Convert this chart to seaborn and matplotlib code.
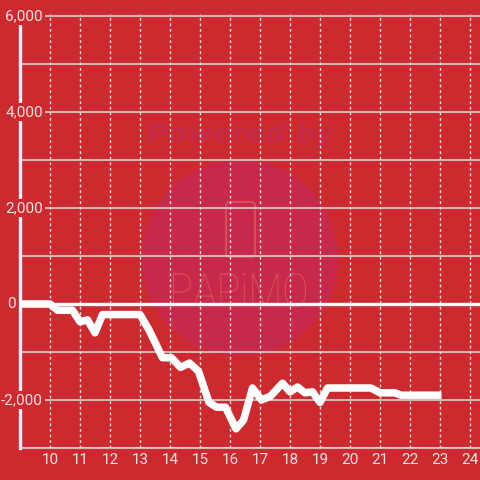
import matplotlib
matplotlib.use("Agg")
import matplotlib.pyplot as plt
import seaborn as sns
import pandas as pd
from matplotlib.patches import Circle, FancyBboxPatch, PathPatch
from matplotlib.ticker import MultipleLocator
from matplotlib.textpath import TextPath
from matplotlib.font_manager import FontProperties
from matplotlib.transforms import Affine2D, blended_transform_factory

# ---- data ----
x_vals = [9, 10, 10.25, 10.75, 11, 11.25, 11.5, 11.75, 13, 13.3, 13.75, 14.05,
          14.35, 14.65, 14.95, 15.3, 15.55, 15.85, 16.2, 16.45, 16.75, 17.05,
          17.35, 17.75, 18.0, 18.25, 18.5, 18.75, 19.0, 19.25, 20.7, 21.0,
          21.5, 21.7, 23.05]
y_vals = [0, 0, -130, -130, -370, -330, -600, -220, -220, -540, -1120, -1120,
          -1320, -1230, -1400, -2050, -2150, -2150, -2600, -2420, -1750, -2000,
          -1920, -1650, -1830, -1730, -1850, -1830, -2050, -1750, -1750, -1850,
          -1850, -1900, -1900]
x_ticks = list(range(10, 25))
y_ticks = [-2000, 0, 2000, 4000, 6000]
y_tick_labels = ["-2,000", "0", "2,000", "4,000", "6,000"]

BG = "#cc2a2f"
GRID = "#d9d4d4"
LABEL = "#f4e2e2"

sns.set_theme(style="white")
plt.rcParams['font.family'] = ['Roboto', 'DejaVu Sans']

df = pd.DataFrame({"x": x_vals, "y": y_vals})

fig = plt.figure(figsize=(4.8, 4.8), dpi=100, facecolor=BG)
ax = fig.add_axes([20/480, 32/480, 460/480, 434/480])
ax.set_facecolor("none")

# ---- watermark (behind everything) ----
px = Affine2D().scale(0.01) + fig.dpi_scale_trans   # pixel coords (origin bottom-left)


def fitted_text(s, prop, x0, x1, ytop, ybot, color):
    tp = TextPath((0, 0), s, size=1, prop=prop)
    e = tp.get_extents()
    tr = (Affine2D().translate(-e.x0, -e.y0)
          .scale((x1 - x0) / e.width, (ybot - ytop) / e.height)
          .translate(x0, 480 - ybot)) + px
    patch = PathPatch(tp, transform=tr, facecolor=color, edgecolor="none", zorder=-1)
    fig.patches.append(patch)


fig.patches.append(Circle((240, 480 - 258), 98, transform=px,
                          facecolor="#c8284a", edgecolor="none", zorder=-2))
fig.patches.append(FancyBboxPatch((226, 480 - 257), 29, 55,
                                  boxstyle="round,pad=0,rounding_size=4",
                                  transform=px, facecolor="none",
                                  edgecolor="#d5505d", lw=1.5, zorder=-1))
fitted_text("Powered by",
            FontProperties(family="DejaVu Sans", weight="bold", style="italic"),
            148, 335, 122, 147, "#c52a48")
fitted_text("PAPiMO",
            FontProperties(family="Roboto", weight="light"),
            173, 306, 273, 307, "#d5505d")

# ---- data line ----
sns.lineplot(data=df, x="x", y="y", ax=ax, color="white", lw=5.4,
             zorder=3, solid_joinstyle="round", solid_capstyle="butt")
ax.axhline(0, color="white", lw=2.4, zorder=1.6)

ax.set_xlim(9, 9 + 460/30)
ax.set_ylim(-3000, 6000 + 2/48*1000)
ax.set_xticks(x_ticks)
ax.set_yticks(y_ticks)
ax.set_yticklabels([])
ax.yaxis.set_minor_locator(MultipleLocator(1000))
ax.set_xlabel("")
ax.set_ylabel("")

ax.grid(axis="y", which="both", color=GRID, lw=1.2, ls="-")
ax.grid(axis="x", which="major", color="#efe2e2", lw=1.0, ls=(0, (2, 2)))

ax.tick_params(axis="y", which="both", length=0)
ax.tick_params(axis="x", which="both", length=0, pad=3.5,
               labelcolor=LABEL, labelsize=11)

# y tick labels drawn inside the plot, over the spine
bt = blended_transform_factory(ax.transAxes, ax.transData)
for v, lab in zip(y_ticks, y_tick_labels):
    if lab == "0":
        xa, ha = (16 - 20) / 460, "right"
        box = None
    else:
        xa, ha = (43 - 20) / 460, "right"
        box = dict(facecolor=BG, edgecolor="none", pad=1.2)
    ax.text(xa, v, lab, transform=bt, ha=ha, va="center", fontsize=11,
            color=LABEL, bbox=box, zorder=1.45, clip_on=False)

for s in ["top", "right"]:
    ax.spines[s].set_visible(False)
ax.spines["left"].set_color("white")
ax.spines["left"].set_linewidth(2.4)
ax.spines["left"].set_zorder(1.3)
ax.spines["bottom"].set_color(GRID)
ax.spines["bottom"].set_linewidth(1.2)

fig.savefig("out.png", dpi=100, facecolor=BG)
